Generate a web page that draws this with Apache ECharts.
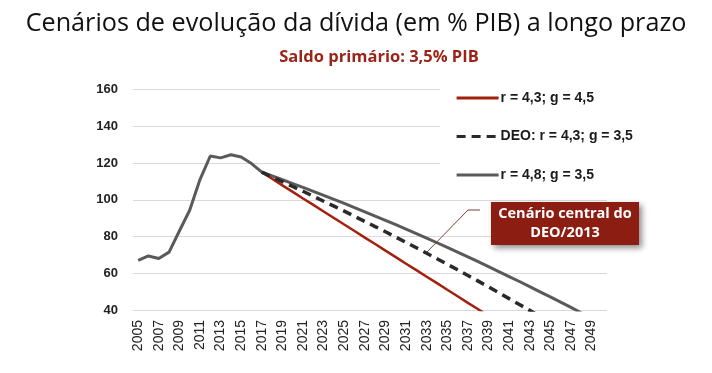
<!DOCTYPE html>
<html><head><meta charset="utf-8">
<script src="https://cdn.jsdelivr.net/npm/echarts@6/dist/echarts.min.js"></script>
<style>html,body{margin:0;padding:0;background:#fff}#c{width:712px;height:373px}</style>
</head><body><div id="c"></div>
<script>
const years = [];
for (let y = 2005; y <= 2050; y++) years.push(String(y));
const history = [67, 69.4, 68, 71.5, 83, 94.3, 111, 123.8, 122.8, 124.5, 123.3, 119.7, 115];
const redProj = [115, 111.4, 107.8, 104.3, 100.7, 97.2, 93.6, 90.1, 86.5, 83.0, 79.4, 75.9, 72.3, 68.8, 65.2, 61.7, 58.1, 54.6, 51.0, 47.5, 43.9, 40.4, 36.8];
const deoProj = [115, 112.4, 109.8, 107.2, 104.6, 101.9, 99.2, 96.5, 93.8, 91.0, 88.2, 85.4, 82.6, 79.7, 76.8, 73.9, 70.9, 67.9, 64.9, 61.9, 58.8, 55.7, 52.6, 49.4, 46.2, 43.0, 39.8, 36.5];
const grayProj = [115, 113.0, 110.9, 108.8, 106.7, 104.6, 102.4, 100.2, 98.0, 95.7, 93.4, 91.1, 88.8, 86.4, 84.0, 81.6, 79.1, 76.6, 74.1, 71.5, 68.9, 66.3, 63.6, 60.9, 58.2, 55.5, 52.7, 49.9, 47.1, 44.3, 41.4, 38.5];
const names = ['r = 4,3; g = 4,5', 'DEO: r = 4,3; g = 3,5', 'r = 4,8; g = 3,5'];
const yTicks = [40, 60, 80, 100, 120, 140, 160];

const nHist = history.length; // history ends at 2017 (index 12)
function pad(proj, withHistory) {
  const arr = new Array(years.length).fill(null);
  if (withHistory) history.forEach((v, i) => arr[i] = v);
  proj.forEach((v, i) => { if (nHist - 1 + i < years.length) arr[nHist - 1 + i] = v; });
  return arr;
}

const chart = echarts.init(document.getElementById('c'));
chart.setOption({
  animation: false,
  title: [
    { text: 'Cenários de evolução da dívida (em % PIB) a longo prazo', left: 'center', top: 6,
      textStyle: { fontFamily: 'Open Sans', fontWeight: 'normal', fontSize: 25.2, color: '#111' } },
    { text: 'Saldo primário: 3,5% PIB', left: 374, textAlign: 'center', top: 44,
      textStyle: { fontFamily: 'Open Sans', fontWeight: 'bold', fontSize: 16.5, color: '#9b2418' } }
  ],
  grid: { left: 133, right: 105, top: 89.5, bottom: 63 },
  legend: {
    orient: 'vertical', left: 440, top: 80, width: 175,
    padding: [11, 20, 12, 15], itemGap: 24.5, itemWidth: 42, itemHeight: 14,
    backgroundColor: '#fff', data: names,
    itemStyle: { opacity: 0 },
    lineStyle: { width: 3.2 },
    textStyle: { fontFamily: 'Liberation Sans', fontWeight: 'bold', fontSize: 14, color: '#1a1a1a', padding: [0, 0, 0, -3] }
  },
  xAxis: {
    type: 'category', data: years, boundaryGap: true,
    axisLine: { show: false }, axisTick: { show: false },
    axisLabel: { interval: 1, rotate: 90, margin: 10, fontFamily: 'Liberation Sans', fontSize: 14, color: '#222' }
  },
  yAxis: {
    type: 'value', min: yTicks[0], max: yTicks[yTicks.length - 1], interval: 20,
    axisLine: { show: false }, axisTick: { show: false },
    axisLabel: { margin: 15, fontFamily: 'Liberation Sans', fontWeight: 'bold', fontSize: 13, color: '#222' },
    splitLine: { lineStyle: { color: '#d9d9d9', width: 1 } }
  },
  series: [
    { name: names[0], type: 'line', data: pad(redProj, false), symbol: 'none',
      lineStyle: { color: '#a3200f', width: 2.5 }, itemStyle: { color: '#a3200f' }, z: 3 },
    { name: names[1], type: 'line', data: pad(deoProj, false), symbol: 'none',
      lineStyle: { color: '#2a2a2a', width: 3.5, type: [9, 6] }, itemStyle: { color: '#2a2a2a' }, z: 4 },
    { name: names[2], type: 'line', data: pad(grayProj, true), symbol: 'none',
      lineStyle: { color: '#5a5a5a', width: 3 }, itemStyle: { color: '#5a5a5a' }, z: 2 }
  ],
  graphic: [
    { type: 'polyline', shape: { points: [[480, 210], [468, 210], [427, 252]] },
      style: { stroke: '#7a4038', lineWidth: 1, fill: null }, z: 10 },
    { type: 'rect', shape: { x: 491, y: 202, width: 148, height: 43 },
      style: { fill: '#8c1d12', shadowBlur: 6, shadowOffsetX: 3, shadowOffsetY: 3, shadowColor: 'rgba(0,0,0,0.45)' }, z: 10 },
    { type: 'text', x: 565, y: 223.5, z: 11,
      style: { text: 'Cenário central do\nDEO/2013', align: 'center', verticalAlign: 'middle',
        fontFamily: 'Open Sans', fontWeight: 'bold', fontSize: 14.5, lineHeight: 19, fill: '#fff' } }
  ]
});
</script></body></html>
